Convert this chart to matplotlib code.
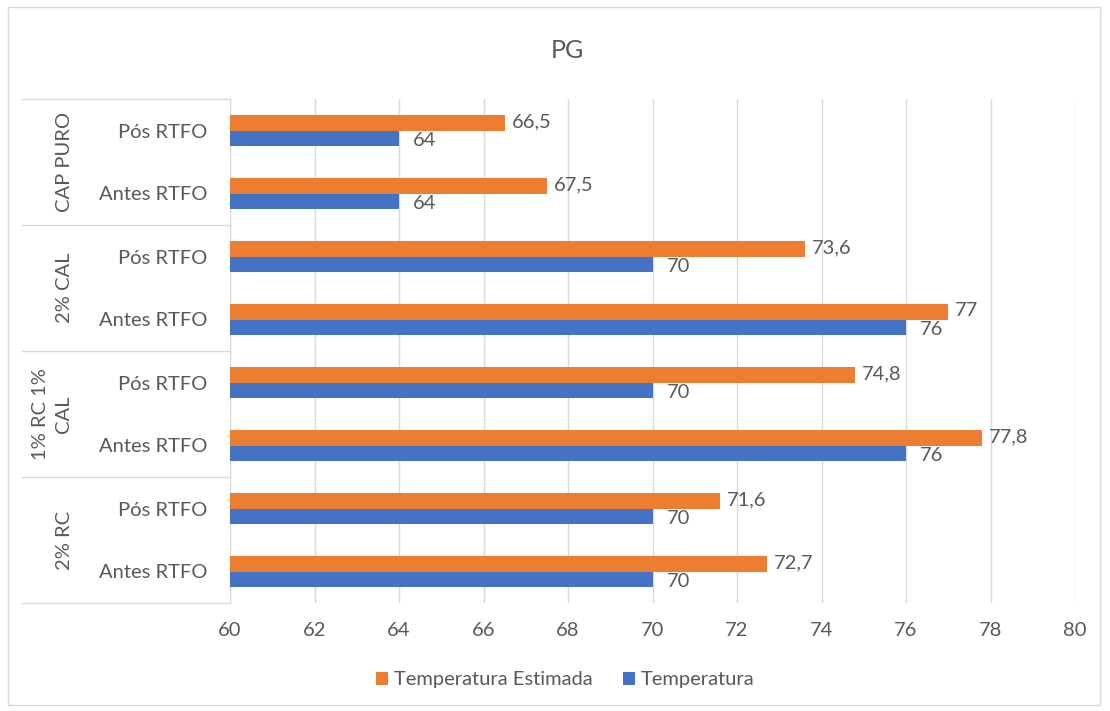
import matplotlib.pyplot as plt
from matplotlib.lines import Line2D
from matplotlib.patches import Rectangle
import matplotlib.transforms as mtransforms

plt.rcParams['font.family'] = ['Lato', 'DejaVu Sans']

# categories listed bottom -> top
inner = ['Antes RTFO', 'Pós RTFO'] * 4
groups = ['2% RC', '1% RC 1%\nCAL', '2% CAL', 'CAP PURO']
estimada = [72.7, 71.6, 77.8, 74.8, 77, 73.6, 67.5, 66.5]
temperatura = [70, 70, 76, 70, 76, 70, 64, 64]
xticks = [60, 62, 64, 66, 68, 70, 72, 74, 76, 78, 80]

orange = '#ED7D31'
blue = '#4472C4'
txt = '#595959'
grid = '#D9D9D9'
fs = 14.5

W, H = 1110, 711
fig = plt.figure(figsize=(W / 100, H / 100), dpi=100)
ax = fig.add_axes([230 / W, 1 - 603 / H, 845 / W, 504 / H])

y = list(range(len(inner)))
h = 0.24
ax.barh([v + h / 2 for v in y], [e - 60 for e in estimada], left=60, height=h,
        color=orange, label='Temperatura Estimada', zorder=3)
ax.barh([v - h / 2 for v in y], [t - 60 for t in temperatura], left=60, height=h,
        color=blue, label='Temperatura', zorder=3)

def fmt(v):
    return f'{v:g}'.replace('.', ',')

for yi, e, t in zip(y, estimada, temperatura):
    ax.annotate(fmt(e), (e, yi + h / 2 + 0.02), xytext=(5, 0), textcoords='offset points',
                va='center', ha='left', fontsize=fs, color=txt)
    ax.annotate(fmt(t), (t, yi - h / 2 - 0.04), xytext=(10, 0), textcoords='offset points',
                va='center', ha='left', fontsize=fs, color=txt)

ax.set_xlim(60, 80)
ax.set_ylim(-0.5, 7.5)
ax.set_xticks(xticks)
ax.set_xticklabels([str(x) for x in xticks], fontsize=fs, color=txt)
ax.set_yticks(y)
ax.set_yticklabels(inner, fontsize=fs, color=txt)
ax.tick_params(axis='both', length=0)
ax.tick_params(axis='y', pad=16)
ax.tick_params(axis='x', pad=14)
ax.grid(axis='x', color=grid, linewidth=1, zorder=0)
for s in ['top', 'right', 'bottom']:
    ax.spines[s].set_visible(False)
ax.spines['left'].set_color(grid)

# outer category labels and separators
tr = mtransforms.blended_transform_factory(fig.transFigure, ax.transData)
for i, g in enumerate(groups):
    xpos = 52 if '\n' in g else 65
    ax.annotate(g, xy=(xpos / W, 2 * i + 0.5), xycoords=('figure fraction', 'data'),
                rotation=90, ha='center', va='center', fontsize=fs, color=txt,
                multialignment='center', linespacing=1.45)
for b in [-0.5, 1.5, 3.5, 5.5, 7.5]:
    fig.add_artist(Line2D([22 / W, 230 / W], [b, b], transform=tr, color=grid, lw=1))

fig.text(567 / W, 1 - 50 / H, 'PG', ha='center', va='center', fontsize=18, color=txt)

fig.legend(loc='center', bbox_to_anchor=(565 / W, 1 - 680 / H), ncol=2, frameon=False,
           fontsize=fs, labelcolor=txt, handlelength=0.6, handleheight=0.6,
           handletextpad=0.3, columnspacing=1.5)

fig.add_artist(Rectangle((8 / W, 6 / H), 1092 / W, 698 / H, transform=fig.transFigure,
                         fill=False, edgecolor=grid, lw=1))

fig.savefig('out.png', dpi=100)
